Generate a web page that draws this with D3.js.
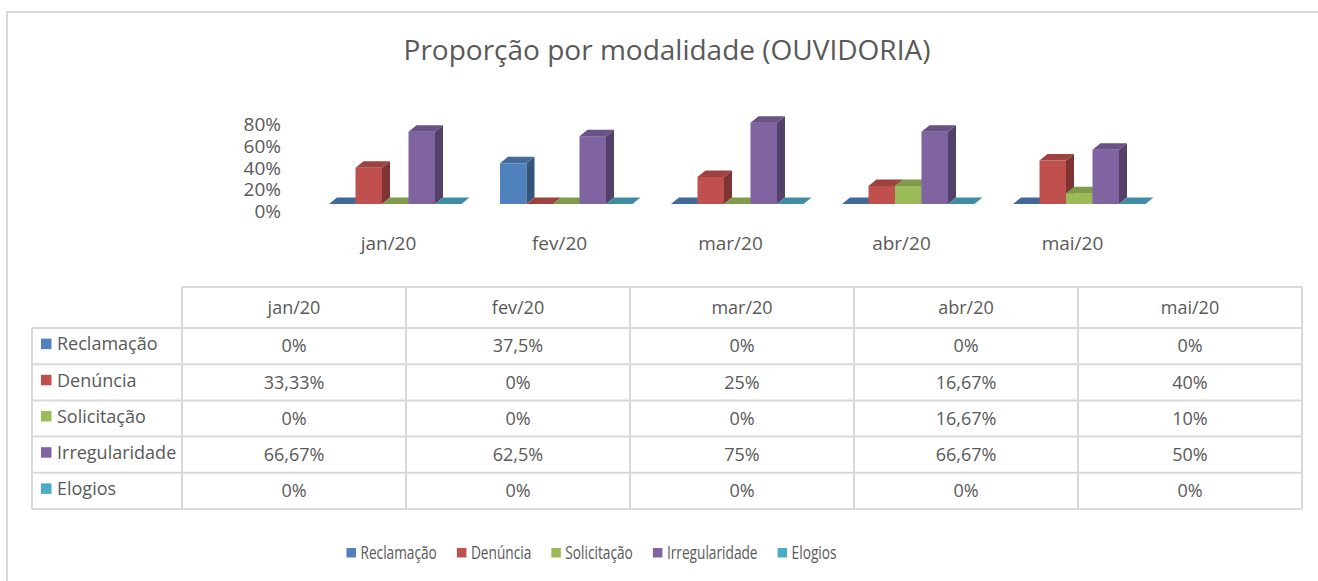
<!DOCTYPE html>
<html>
<head>
<meta charset="utf-8">
<script src="https://cdn.jsdelivr.net/npm/d3@7"></script>
<style>
  body { margin: 0; background: #fff; }
  text { font-family: "Open Sans", "Noto Sans", sans-serif; fill: #595959; }
</style>
</head>
<body>
<div id="chart"></div>
<script>
// data (percent)
const months = [ "jan/20", "fev/20", "mar/20", "abr/20", "mai/20" ];
const seriesNames = [ "Reclamação", "Denúncia", "Solicitação", "Irregularidade", "Elogios" ];
const reclamacao = [ 0, 37.5, 0, 0, 0 ];
const denuncia = [ 33.33, 0, 25, 16.67, 40 ];
const solicitacao = [ 0, 0, 0, 16.67, 10 ];
const irregularidade = [ 66.67, 62.5, 75, 66.67, 50 ];
const elogios = [ 0, 0, 0, 0, 0 ];
const yTicks = [ 0, 20, 40, 60, 80 ];
const seriesColors = [ "#4F81BD", "#C0504D", "#9BBB59", "#8064A2", "#4BACC6" ];

const seriesValues = [ reclamacao, denuncia, solicitacao, irregularidade, elogios ];
const fmtPct = v => String( v ).replace( ".", "," ) + "%";

const svgWidth = 1318, svgHeight = 581;
const depth = { dx: 8, dy: 6.5 }; // fake 3d offset

const svg = d3.select( "#chart" )
  .append( "svg" )
  .attr( "width", svgWidth )
  .attr( "height", svgHeight );

// outer frame + title
svg.append( "rect" )
  .attr( "x", 7 ).attr( "y", 12 )
  .attr( "width", 1400 ).attr( "height", 700 )
  .attr( "fill", "#fff" )
  .attr( "stroke", "#D9D9D9" )
  .attr( "stroke-width", 2 );

svg.append( "text" )
  .attr( "x", 667 ).attr( "y", 59.5 )
  .attr( "text-anchor", "middle" )
  .style( "font-size", "28px" )
  .text( "Proporção por modalidade (OUVIDORIA)" );

// scales
const xScale = d3.scaleBand()
  .domain( months )
  .range( [ 303, 1158 ] );

const xSeries = d3.scaleBand()
  .domain( seriesNames )
  .range( [ 0, 132.5 ] );

const yScale = d3.scaleLinear()
  .domain( [ 0, 80 ] )
  .range( [ 204, 117.2 ] );

// y labels, no axis line in the reference
svg.append( "g" )
  .selectAll( "text" )
  .data( yTicks )
  .enter().append( "text" )
  .attr( "x", 281 )
  .attr( "y", d => yScale( d ) + 7.5 )
  .attr( "dy", "0.35em" )
  .attr( "text-anchor", "end" )
  .style( "font-size", "19px" )
  .text( d => d + "%" );

// category labels
svg.append( "g" )
  .selectAll( "text" )
  .data( months )
  .enter().append( "text" )
  .attr( "x", d => xScale( d ) + xScale.bandwidth() / 2 )
  .attr( "y", 243 )
  .attr( "dy", "0.35em" )
  .attr( "text-anchor", "middle" )
  .style( "font-size", "19px" )
  .text( d => d );

// bars: front, side and top faces, drawn left to right
const barsGroup = svg.append( "g" );
months.forEach( ( m, mi ) => {
  seriesNames.forEach( ( s, si ) => {
    const v = seriesValues[ si ][ mi ];
    const c = d3.color( seriesColors[ si ] );
    const x0 = xScale( m ) + 26 + xSeries( s );
    const x1 = x0 + xSeries.bandwidth();
    const y0 = yScale( 0 );
    const yt = yScale( v );
    const { dx, dy } = depth;

    if ( v > 0 ) {
      barsGroup.append( "rect" )
        .attr( "x", x0 ).attr( "y", yt )
        .attr( "width", x1 - x0 ).attr( "height", y0 - yt )
        .attr( "fill", c.formatHex() );
      barsGroup.append( "path" )
        .attr( "d", `M${x1},${y0}L${x1 + dx},${y0 - dy}L${x1 + dx},${yt - dy}L${x1},${yt}Z` )
        .attr( "fill", c.darker( 1.2 ).formatHex() );
    }
    barsGroup.append( "path" )
      .attr( "d", `M${x0},${yt}L${x1},${yt}L${x1 + dx},${yt - dy}L${x0 + dx},${yt - dy}Z` )
      .attr( "fill", c.darker( 0.55 ).formatHex() );
  } );
} );

// data table under the chart
const table = { left: 32, colLeft: 182, colWidth: 224, top: 287, headH: 41, rowH: 36.2 };
const tableGroup = svg.append( "g" );
const lineColor = "#D9D9D9";
const rowsBottom = table.top + table.headH + seriesNames.length * table.rowH;
const tableRight = table.colLeft + months.length * table.colWidth;

// horizontal lines
tableGroup.append( "line" )
  .attr( "x1", table.colLeft ).attr( "x2", tableRight )
  .attr( "y1", table.top ).attr( "y2", table.top );
d3.range( seriesNames.length + 1 ).forEach( i => {
  const y = table.top + table.headH + i * table.rowH;
  tableGroup.append( "line" )
    .attr( "x1", table.left ).attr( "x2", tableRight )
    .attr( "y1", y ).attr( "y2", y );
} );
// vertical lines
tableGroup.append( "line" )
  .attr( "x1", table.left ).attr( "x2", table.left )
  .attr( "y1", table.top + table.headH ).attr( "y2", rowsBottom );
d3.range( months.length + 1 ).forEach( i => {
  const x = table.colLeft + i * table.colWidth;
  tableGroup.append( "line" )
    .attr( "x1", x ).attr( "x2", x )
    .attr( "y1", table.top ).attr( "y2", rowsBottom );
} );
tableGroup.selectAll( "line" )
  .attr( "stroke", lineColor )
  .attr( "stroke-width", 2 );

// header
tableGroup.selectAll( ".head" )
  .data( months )
  .enter().append( "text" )
  .attr( "class", "head" )
  .attr( "x", ( d, i ) => table.colLeft + ( i + 0.5 ) * table.colWidth )
  .attr( "y", table.top + table.headH / 2 )
  .attr( "dy", "0.35em" )
  .attr( "text-anchor", "middle" )
  .style( "font-size", "18px" )
  .text( d => d );

seriesNames.forEach( ( s, si ) => {
  const yMid = table.top + table.headH + ( si + 0.5 ) * table.rowH;
  tableGroup.append( "rect" )
    .attr( "x", 41 ).attr( "y", yMid - 7.5 )
    .attr( "width", 10.5 ).attr( "height", 10.5 )
    .attr( "fill", seriesColors[ si ] );
  tableGroup.append( "text" )
    .attr( "x", 57 ).attr( "y", yMid - 2 )
    .attr( "dy", "0.35em" )
    .style( "font-size", "18px" )
    .text( s );
  seriesValues[ si ].forEach( ( v, mi ) => {
    tableGroup.append( "text" )
      .attr( "x", table.colLeft + ( mi + 0.5 ) * table.colWidth )
      .attr( "y", yMid )
      .attr( "dy", "0.35em" )
      .attr( "text-anchor", "middle" )
      .style( "font-size", "18px" )
      .text( fmtPct( v ) );
  } );
} );

// legend, text squeezed like the reference
const legendGroup = svg.append( "g" );
const squeeze = 0.74, legendY = 553, legendCenter = 591.5;
const items = seriesNames.map( ( s, si ) => {
  const t = legendGroup.append( "text" )
    .style( "font-size", "18.5px" )
    .attr( "dy", "0.35em" )
    .text( s );
  return { t, w: t.node().getComputedTextLength() * squeeze, color: seriesColors[ si ] };
} );
const totalW = d3.sum( items, d => 14 + d.w ) + 20 * ( items.length - 1 );
let cursor = legendCenter - totalW / 2;
items.forEach( it => {
  legendGroup.append( "rect" )
    .attr( "x", cursor ).attr( "y", legendY - 5 )
    .attr( "width", 9.5 ).attr( "height", 9.5 )
    .attr( "fill", it.color );
  it.t.attr( "transform", `translate(${cursor + 14},${legendY}) scale(${squeeze},1)` );
  cursor += 14 + it.w + 20;
} );
</script>
</body>
</html>
